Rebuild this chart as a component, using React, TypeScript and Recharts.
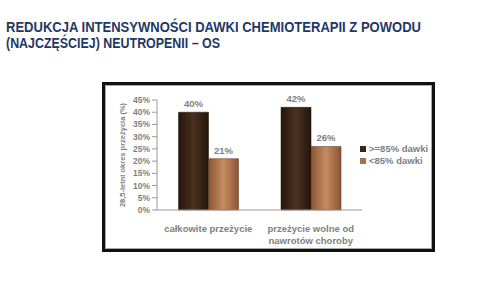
import React from "react";
import { BarChart, Bar, XAxis, YAxis, LabelList } from "recharts";

const categories = ["całkowite przeżycie", "przeżycie wolne od\nnawrotów choroby"];
const highDose = [40, 42];
const lowDose = [21, 26];
const yTicks = [0, 5, 10, 15, 20, 25, 30, 35, 40, 45];
const seriesNames = [">=85% dawki", "<85% dawki"];
const seriesColors = ["#3a2516", "#a86f47"];

const data = categories.map((name, i) => ({ name, high: highDose[i], low: lowDose[i] }));

const GRAY = "#7f7f7f";
const FONT = "'Liberation Sans', Arial, sans-serif";

function CategoryTick({ x, y, payload }: any) {
  const lines = String(payload.value).split("\n");
  return (
    <text x={x} y={y + 14} textAnchor="middle" fill={GRAY} fontSize={9.5} fontWeight="bold" fontFamily={FONT}>
      {lines.map((l, i) => (
        <tspan key={i} x={x} dy={i === 0 ? 0 : 12}>
          {l}
        </tspan>
      ))}
    </text>
  );
}

function LegendBox() {
  return (
    <div
      style={{
        position: "absolute",
        left: 255,
        top: 58,
        fontFamily: FONT,
        fontSize: 9.5,
        fontWeight: "bold",
        color: GRAY,
        lineHeight: "12px",
        whiteSpace: "nowrap",
      }}
    >
      {seriesNames.map((n, i) => (
        <div key={n} style={{ display: "flex", alignItems: "center" }}>
          <span style={{ width: 6, height: 6, background: seriesColors[i], marginRight: 3, display: "inline-block" }} />
          {n}
        </div>
      ))}
    </div>
  );
}

export default function App() {
  return (
    <div style={{ position: "absolute", left: 0, top: 0, width: 480, height: 300, background: "#fff" }}>
      <svg width={480} height={60} style={{ position: "absolute", left: 0, top: 0 }}>
        <text fill="#1f3864" fontSize={14} fontWeight="bold" fontFamily={FONT}>
          <tspan x={6} y={31.5} textLength={415} lengthAdjust="spacingAndGlyphs">
            REDUKCJA INTENSYWNOŚCI DAWKI CHEMIOTERAPII Z POWODU
          </tspan>
          <tspan x={6} y={47.5} textLength={214} lengthAdjust="spacingAndGlyphs">
            (NAJCZĘŚCIEJ) NEUTROPENII – OS
          </tspan>
        </text>
      </svg>
      <div
        style={{
          position: "absolute",
          left: 102,
          top: 82,
          width: 327,
          height: 164,
          border: "3px solid #111",
          boxShadow: "inset 0 0 0 1px #aaa",
          background: "#fff",
        }}
      >
        <BarChart
          width={327}
          height={164}
          data={data}
          margin={{ top: 15, right: 70, bottom: 0, left: 0 }}
          barCategoryGap="21%"
          barGap={0}
        >
          <defs>
            <linearGradient id="gDark" x1="0" y1="0" x2="1" y2="0">
              <stop offset="0%" stopColor="#24160d" />
              <stop offset="50%" stopColor="#4a3020" />
              <stop offset="100%" stopColor="#24160d" />
            </linearGradient>
            <linearGradient id="gLight" x1="0" y1="0" x2="1" y2="0">
              <stop offset="0%" stopColor="#8a5535" />
              <stop offset="50%" stopColor="#c68c60" />
              <stop offset="100%" stopColor="#8a5535" />
            </linearGradient>
          </defs>
          <XAxis
            dataKey="name"
            tick={<CategoryTick />}
            tickLine={false}
            axisLine={{ stroke: "#999" }}
            interval={0}
            height={39}
          />
          <YAxis
            domain={[0, 45]}
            ticks={yTicks}
            interval={0}
            tickFormatter={(v) => `${v}%`}
            width={52}
            tickSize={5}
            tick={{ fill: GRAY, fontSize: 8.5, fontWeight: "bold", fontFamily: FONT }}
            axisLine={{ stroke: "#999" }}
            tickLine={{ stroke: "#999" }}
            label={{
              value: "28,5-letni okres przeżycia (%)",
              angle: -90,
              position: "center",
              dx: -9,
              style: { fill: GRAY, fontSize: 7.5, fontWeight: "bold", fontFamily: FONT, textAnchor: "middle" },
            }}
          />
          <Bar dataKey="high" name={seriesNames[0]} fill="url(#gDark)" stroke="#1c1009" strokeWidth={0.5} isAnimationActive={false}>
            <LabelList dataKey="high" position="top" formatter={(v: any) => `${v}%`} fill={GRAY} fontSize={9.5} fontWeight="bold" fontFamily={FONT} />
          </Bar>
          <Bar dataKey="low" name={seriesNames[1]} fill="url(#gLight)" stroke="#5a3520" strokeWidth={0.5} isAnimationActive={false}>
            <LabelList dataKey="low" position="top" formatter={(v: any) => `${v}%`} fill={GRAY} fontSize={9.5} fontWeight="bold" fontFamily={FONT} />
          </Bar>
        </BarChart>
        <LegendBox />
      </div>
    </div>
  );
}
